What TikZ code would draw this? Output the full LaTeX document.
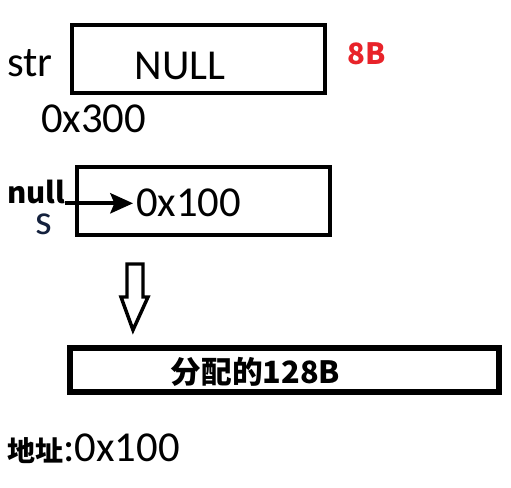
\documentclass[tikz,border=0pt]{standalone}
\usepackage{fontspec}
\usetikzlibrary{arrows.meta}
\setmainfont{Carlito}
\newfontfamily\cjk{Noto Sans CJK SC}
\definecolor{sizered}{HTML}{E8232A}
\definecolor{inkblue}{HTML}{14213D}

\begin{document}
\begin{tikzpicture}[x=0.75pt, y=-0.75pt,
        cell/.style={draw, line width=3.4pt, inner sep=0pt},
        lbl/.style={inner sep=0pt, font=\fontsize{32}{36}\selectfont},
        bold/.style={inner sep=0pt, font=\cjk\bfseries\fontsize{22}{26}\selectfont}]
        \useasboundingbox (0, 0) rectangle (511, 488);
        \node[cell, minimum width=189.75pt, minimum height=51pt] (strbox) at (198.5, 59) {};
        \node[cell, minimum width=189.75pt, minimum height=51pt] (sbox) at (203.5, 201) {};
        \node[cell, line width=3.8pt, minimum width=321.75pt, minimum height=33pt] (heap) at (284.5, 370) {};
        \node[lbl, anchor=base] (str) at (30, 77) {str};
        \node[lbl, anchor=base] (nullval) at (180, 80) {NULL};
        \node[lbl, anchor=base] (straddr) at (93.5, 133) {0x300};
        \node[bold, anchor=base, text=sizered] (size) at (366.5, 65) {8B};
        \node[bold, anchor=base] (null) at (36, 204) {null};
        \node[lbl, anchor=base, text=inkblue] (s) at (43.5, 235) {s};
        \node[lbl, anchor=base] (sval) at (188.5, 217) {0x100};
        \node[bold, font=\cjk\bfseries\fontsize{23}{26}\selectfont] (heaptext) at (255.5, 372) {分配的128B};
        \node[anchor=base west, inner sep=0pt] (heapaddr) at (7, 461) {{\cjk\bfseries\fontsize{21}{24}\selectfont 地址}{\fontsize{32}{36}\selectfont :0x100}};
        % null points at the value in s
        \draw[-{Stealth[length=17pt, width=15pt, inset=3pt]}, line width=3.2pt, shorten >=2pt] (null.east |- sval) -- (sval.west);
        % hollow arrow down to the heap block
        \coordinate (down) at (127, 264);
        \draw[line width=2.6pt, line join=miter] (down) -- ++(16, 0) -- ++(0, 33) -- ++(5, 0) -- (133, 330) -- (121, 297) -- ++(6, 0) -- cycle;
    \end{tikzpicture}
\end{document}
